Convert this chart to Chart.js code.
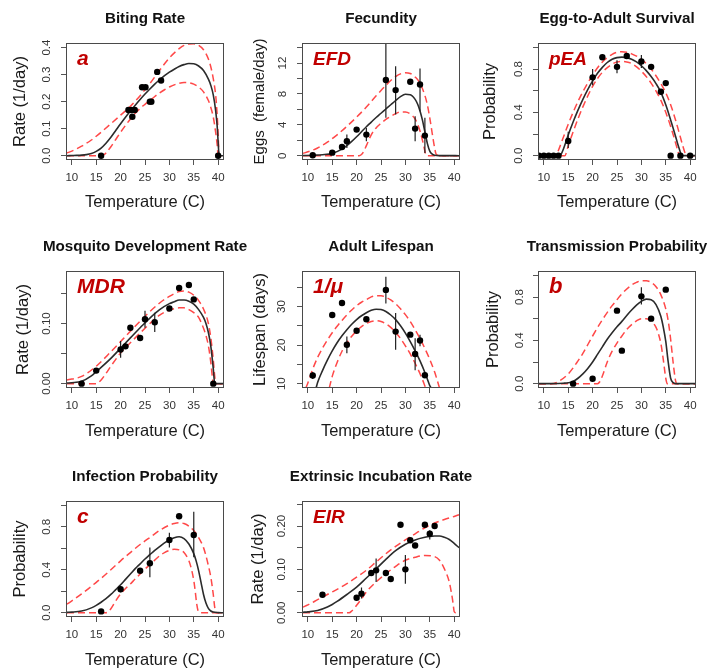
<!DOCTYPE html>
<html><head><meta charset="utf-8">
<script src="https://cdn.jsdelivr.net/npm/chart.js@4.4.1/dist/chart.umd.min.js"></script>
<style>
html,body{margin:0;padding:0;background:#fff;}
#stage{position:relative;width:711px;height:670px;overflow:hidden;background:#fff;}
#stage canvas{position:absolute;}
</style></head><body><div id="stage"></div>
<script>
// ---------- shared axis ticks ----------
const X_TICKS = [10,15,20,25,30,35,40];
const X_TICK_LABELS = ['10','15','20','25','30','35','40'];
const Y_TICKS_BITE = [0,0.1,0.2,0.3,0.4];
const Y_LABELS_BITE = ['0.0','0.1','0.2','0.3','0.4'];
const Y_TICKS_EFD = [0,2,4,6,8,10,12,14];
const Y_LABELS_EFD = ['0','','4','','8','','12',''];
const Y_TICKS_PROB = [0,0.2,0.4,0.6,0.8,1.0];
const Y_LABELS_PROB = ['0.0','','0.4','','0.8',''];
const Y_TICKS_MDR = [0,0.05,0.10,0.15];
const Y_LABELS_MDR = ['0.00','','0.10',''];
const Y_TICKS_LF = [10,15,20,25,30,35];
const Y_LABELS_LF = ['10','','20','','30',''];
const Y_TICKS_EIR = [0,0.05,0.10,0.15,0.20,0.25];
const Y_LABELS_EIR = ['0.00','','0.10','','0.20',''];

// ---------- Biting rate (a) ----------
const biteObsT = [16,21.6,22.2,22.9,22.4,24.4,25.1,26.0,26.3,27.5,28.3,40];
const biteObsY = [0,0.169,0.169,0.169,0.144,0.253,0.253,0.2,0.2,0.31,0.278,0];
const biteFitT = [9,10,11,12,13,14,15,16,17,18,19,20,21,22,23,24,25,26,27,28,29,30,31,32,33,34,35,36,37,38,38.5,39,39.5,39.8,40,40.2,41];
const biteFit  = [0,0.0005,0.001,0.002,0.004,0.008,0.016,0.028,0.046,0.068,0.093,0.118,0.142,0.165,0.187,0.208,0.228,0.247,0.265,0.281,0.296,0.309,0.32,0.33,0.337,0.341,0.34,0.332,0.315,0.283,0.26,0.225,0.165,0.11,0.05,0,0];
const biteHiT = [9,10,12,14,15,16,18,20,22,24,25,26,28,30,32,33,34,35,36,37,38,38.5,39,39.5,39.8,40,40.2,41];
const biteHi  = [0.01,0.017,0.035,0.058,0.072,0.087,0.118,0.15,0.183,0.222,0.245,0.267,0.316,0.362,0.396,0.408,0.413,0.414,0.408,0.392,0.358,0.328,0.285,0.222,0.15,0.08,0,0];
const biteLoT = [9,16,16.5,17,18,19,20,21,22,23,24,25,26,27,28,29,30,31,32,33,34,35,36,37,38,38.5,39,39.5,39.8,40,41];
const biteLo  = [0,0,0.003,0.01,0.033,0.06,0.087,0.112,0.136,0.157,0.175,0.19,0.204,0.219,0.232,0.244,0.254,0.262,0.268,0.271,0.27,0.265,0.254,0.236,0.204,0.178,0.143,0.085,0.04,0,0];

// ---------- Fecundity (EFD) ----------
const efdObsT = [11,15,17,18,20,22,26,28,31,32,33,34];
const efdObsY = [0.05,0.39,1.13,1.86,3.38,2.73,9.8,8.5,9.58,3.51,9.23,2.6];
const efdErrT = [18,22,26,28,32,33,34];
const efdErrLo = [1.0,1.86,4.9,5.33,1.86,5.77,0.35];
const efdErrHi = [2.73,3.6,16,11.6,5.1,11.3,4.9];
const efdFitT = [9,11,13,15,17,18,19,20,21,22,23,24,25,26,27,28,29,30,31,32,32.5,33,33.5,34,34.5,35,35.5,36,37,41];
const efdFit  = [0.02,0.06,0.13,0.3,0.85,1.3,1.85,2.45,3.1,3.75,4.35,4.95,5.5,6.05,6.6,7.15,7.65,7.95,7.9,7.3,6.7,5.8,4.6,3.1,1.6,0.6,0.2,0.06,0.01,0];
const efdHiT = [9,10,12,14,16,18,20,22,24,25,26,27,28,29,30,31,32,33,34,34.5,35,35.5,36,36.3,37,41];
const efdHi  = [0.3,0.5,1.0,1.75,2.7,3.8,5.0,6.3,7.75,8.45,9.1,9.75,10.25,10.6,10.75,10.65,10.2,9.4,7.8,6.6,4.9,2.9,1.0,0.2,0,0];
const efdLoT = [9,20.5,21,21.5,22,23,24,25,26,27,28,29,30,31,32,32.5,33,33.5,34,34.3,41];
const efdLo  = [0,0,0.15,0.6,1.3,2.7,3.6,4.2,4.7,5.1,5.45,5.65,5.65,5.4,4.75,4.1,3.2,2.0,0.6,0,0];

// ---------- Egg-to-adult survival (pEA) ----------
const peaObsT = [9,10,11,12,13,15,20,22,25,27,30,32,34,35,36,38,40];
const peaObsY = [0,0,0,0,0,0.135,0.723,0.908,0.82,0.92,0.87,0.82,0.59,0.67,0,0,0];
const peaErrT = [15,20,25,30];
const peaErrLo = [0.07,0.65,0.76,0.81];
const peaErrHi = [0.22,0.8,0.88,0.93];
const peaFitT = [9,13,13.5,14,15,16,17,18,19,20,21,22,23,24,25,26,27,28,29,30,31,32,33,34,35,36,37,37.5,38,38.2,41];
const peaFit  = [0,0,0.01,0.06,0.19,0.31,0.42,0.52,0.61,0.69,0.76,0.815,0.86,0.89,0.905,0.91,0.905,0.89,0.865,0.83,0.785,0.73,0.665,0.585,0.47,0.33,0.18,0.1,0.03,0,0];
const peaHiT = [9,12.5,13,14,15,16,17,18,20,22,24,25,26,27,28,30,32,34,35,36,37,38,38.5,39,39.5,41];
const peaHi  = [0,0,0.05,0.17,0.29,0.4,0.5,0.59,0.745,0.865,0.935,0.955,0.96,0.955,0.94,0.89,0.8,0.665,0.58,0.47,0.33,0.17,0.09,0.02,0,0];
const peaLoT = [9,14.3,15,16,17,18,20,22,24,25,26,27,28,30,32,34,35,36,37,37.5,37.8,41];
const peaLo  = [0,0,0.09,0.22,0.34,0.45,0.64,0.77,0.845,0.865,0.87,0.865,0.85,0.78,0.67,0.51,0.4,0.27,0.12,0.04,0,0];

// ---------- Mosquito development rate (MDR) ----------
const mdrObsT = [12,15,20,21,22,24,25,27,30,32,34,35,39];
const mdrObsY = [0,0.0217,0.0567,0.062,0.093,0.076,0.107,0.102,0.125,0.159,0.164,0.14,0];
const mdrErrT = [20,25,27];
const mdrErrLo = [0.043,0.093,0.086];
const mdrErrHi = [0.071,0.121,0.118];
const mdrFitT = [9,10,12,14,15,16,18,20,22,24,25,26,28,30,31,32,33,34,35,36,37,37.5,38,38.5,39,39.3,41];
const mdrFit  = [0.001,0.0015,0.004,0.013,0.02,0.027,0.042,0.059,0.076,0.093,0.101,0.109,0.123,0.133,0.136,0.139,0.139,0.137,0.132,0.123,0.11,0.1,0.085,0.062,0.025,0,0];
const mdrHiT = [9,12,15,18,20,22,25,28,30,32,33,34,35,36,37,38,38.5,39,39.3,39.5,41];
const mdrHi  = [0.006,0.012,0.029,0.053,0.07,0.087,0.112,0.134,0.145,0.153,0.154,0.152,0.147,0.138,0.124,0.1,0.076,0.04,0.012,0,0];
const mdrLoT = [9,15,16,17,18,20,22,25,28,30,32,33,34,35,36,37,37.5,38,38.5,38.8,39,41];
const mdrLo  = [0,0,0.006,0.017,0.029,0.051,0.068,0.092,0.114,0.122,0.126,0.126,0.123,0.118,0.11,0.092,0.08,0.063,0.035,0.012,0,0];

// ---------- Adult lifespan (1/mu) ----------
const lfObsT = [11,15,17,18,20,22,26,28,31,32,33,34];
const lfObsY = [12.1,27.8,30.9,20.1,23.7,26.7,34.3,23.5,22.7,17.7,21.2,12.2];
const lfErrT = [11,18,26,28,32,33];
const lfErrLo = [11.2,17.9,30.8,18.8,13.5,19.7];
const lfErrHi = [13.0,22.2,37.7,28.3,21.8,22.7];
const lfFitT = [11.7,12,13,14,15,16,17,18,19,20,21,22,23,24,25,26,27,28,29,30,31,32,33,34,34.5,35,35.3];
const lfFit  = [8.9,10.3,13.4,16.1,18.5,20.6,22.4,24.0,25.4,26.6,27.6,28.4,29.0,29.3,29.2,28.7,27.8,26.6,25.0,23.1,20.9,18.5,15.9,12.9,11.2,9.5,8.9];
const lfHiT = [9.6,10,11,12,13,14,15,16,17,18,19,20,21,22,23,24,25,26,27,28,29,30,31,32,33,34,35,36,36.5,37];
const lfHi  = [8.9,10.2,13.8,16.8,19.2,21.3,23.2,24.9,26.4,27.8,29.1,30.2,31.1,31.8,32.5,32.8,32.8,32.4,31.7,30.7,29.4,27.9,26.1,24.0,21.7,19.1,16.3,13.0,11.0,8.9];
const lfLoT = [14.4,15,16,17,18,19,20,21,22,23,24,25,26,27,28,29,30,31,32,33,33.5,34,34.2];
const lfLo  = [8.9,11.9,15.5,18.4,20.6,22.3,23.7,24.8,25.6,26.1,26.3,26.1,25.5,24.6,23.3,21.7,19.8,17.7,15.3,12.6,11.1,9.4,8.9];

// ---------- Transmission probability (b) ----------
const bObsT = [16,20,25,26,30,32,35];
const bObsY = [0.0,0.046,0.674,0.305,0.806,0.6,0.868];
const bErrT = [30];
const bErrLo = [0.73];
const bErrHi = [0.89];
const bFitT = [9,13,14,15,16,17,18,19,20,21,22,23,24,25,26,27,28,29,30,31,32,33,34,34.5,35,35.5,36,36.5,37,41];
const bFit  = [0,0.002,0.004,0.008,0.02,0.05,0.09,0.14,0.2,0.27,0.34,0.41,0.47,0.525,0.575,0.63,0.68,0.725,0.76,0.78,0.775,0.73,0.62,0.52,0.39,0.2,0.05,0.01,0,0];
const bHiT = [9,11.5,13,15,17,18,20,22,24,25,26,28,29,30,31,32,33,34,35,35.5,36,36.5,37,37.3,41];
const bHi  = [0,0,0.02,0.09,0.21,0.28,0.44,0.59,0.72,0.775,0.83,0.91,0.935,0.95,0.95,0.935,0.895,0.82,0.69,0.58,0.41,0.2,0.03,0,0];
const bLoT = [9,21,21.5,22,23,24,25,26,27,28,29,30,31,32,33,33.5,34,34.5,35,35.3,41];
const bLo  = [0,0,0.02,0.07,0.2,0.3,0.375,0.44,0.5,0.545,0.58,0.6,0.6,0.58,0.52,0.46,0.37,0.22,0.05,0,0];

// ---------- Infection probability (c) ----------
const cObsT = [16,20,24,26,30,32,35];
const cObsY = [0.012,0.218,0.39,0.46,0.677,0.898,0.723];
const cErrT = [20,26,30,35];
const cErrLo = [0.19,0.33,0.607,0.517];
const cErrHi = [0.246,0.607,0.745,0.94];
const cFitT = [9,10,12,14,15,16,17,18,19,20,21,22,23,24,25,26,27,28,29,30,31,32,33,34,35,35.5,36,36.5,37,37.5,38,38.5,39,40,41];
const cFit  = [0.003,0.005,0.015,0.045,0.068,0.097,0.13,0.17,0.215,0.26,0.31,0.36,0.41,0.455,0.5,0.54,0.58,0.615,0.65,0.677,0.698,0.707,0.69,0.64,0.55,0.48,0.39,0.28,0.17,0.09,0.04,0.016,0.006,0.001,0];
const cHiT = [9,10,12,14,15,16,18,20,22,24,25,26,28,30,31,32,33,34,35,36,37,37.5,38,38.5,39,39.3,39.6,41];
const cHi  = [0.08,0.11,0.175,0.245,0.283,0.32,0.4,0.483,0.56,0.635,0.668,0.7,0.766,0.815,0.83,0.837,0.83,0.806,0.765,0.7,0.606,0.53,0.437,0.33,0.17,0.05,0,0];
const cLoT = [9,17,17.5,18,19,20,21,22,23,24,25,26,27,28,29,30,31,32,33,34,34.5,35,35.3,35.6,36,36.5,41];
const cLo  = [0,0,0.01,0.037,0.11,0.175,0.225,0.268,0.315,0.36,0.406,0.447,0.49,0.53,0.56,0.58,0.59,0.585,0.56,0.483,0.41,0.3,0.2,0.083,0.006,0,0];

// ---------- Extrinsic incubation rate (EIR) ----------
const eirObsT = [13,20,21,23,24,26,27,29,30,31,32,34,35,36];
const eirObsY = [0.0415,0.0346,0.044,0.0915,0.0977,0.0915,0.0777,0.203,0.1,0.167,0.155,0.203,0.182,0.2];
const eirErrT = [13,21,24,30,35];
const eirErrLo = [0.036,0.033,0.071,0.067,0.169];
const eirErrHi = [0.048,0.058,0.125,0.133,0.19];
const eirFitT = [9,10,12,14,15,16,18,20,22,24,26,28,30,32,34,35,36,37,38,39,40,41];
const eirFit  = [0.001,0.002,0.005,0.013,0.019,0.026,0.042,0.059,0.08,0.101,0.123,0.143,0.158,0.168,0.174,0.176,0.177,0.177,0.174,0.169,0.16,0.15];
const eirHiT = [9,10,12,14,15,16,18,20,22,24,26,28,30,32,34,36,38,40,41];
const eirHi  = [0.013,0.018,0.03,0.042,0.048,0.054,0.067,0.082,0.098,0.117,0.136,0.153,0.168,0.182,0.196,0.207,0.215,0.222,0.226];
const eirLoT = [9,18.5,19,20,21,22,24,26,28,30,32,34,35.5,37,38,39,39.5,39.8,40,40.3,41];
const eirLo  = [0,0,0.004,0.017,0.032,0.048,0.071,0.09,0.107,0.121,0.128,0.132,0.131,0.121,0.101,0.071,0.042,0.02,0.003,0,0];

// ---------- layout ----------
const FONT = '"Liberation Sans", Arial, Helvetica, sans-serif';
const COL_LEFT = [66,302,538];
const ROW_TOP = [43,271,501];
const BOX_W = 158;
const BOX_H = [117,117,116];
const X_TITLE_DIST = [42,43.5,43.5];
const AXIS_W = 66, TOP_PAD = 43, RIGHT_PAD = 50;
const TICK_FONT = 11.5, AXIS_TITLE_FONT = 16.5, PANEL_TITLE_FONT = 15.2;

const PANELS = [
  {title:'Biting Rate', tag:'a', tagSize:21, ytitle:'Rate (1/day)', ytSize:16.5, col:0,row:0, ymin:-0.016, ymax:0.417, yTicks:Y_TICKS_BITE, yLabels:Y_LABELS_BITE,
   obsT:biteObsT, obsY:biteObsY, errT:[], errLo:[], errHi:[], fitT:biteFitT, fit:biteFit, hiT:biteHiT, hi:biteHi, loT:biteLoT, lo:biteLo, yTitleDist:46, yLabDist:19.3},
  {title:'Fecundity', tag:'EFD', tagSize:19, ytitle:'Eggs  (female/day)', ytSize:15, col:1,row:0, ymin:-0.56, ymax:14.6, yTicks:Y_TICKS_EFD, yLabels:Y_LABELS_EFD,
   obsT:efdObsT, obsY:efdObsY, errT:efdErrT, errLo:efdErrLo, errHi:efdErrHi, fitT:efdFitT, fit:efdFit, hiT:efdHiT, hi:efdHi, loT:efdLoT, lo:efdLo, yTitleDist:42, yLabDist:19},
  {title:'Egg-to-Adult Survival', tag:'pEA', tagSize:19, ytitle:'Probability', ytSize:16.5, col:2,row:0, ymin:-0.04, ymax:1.04, yTicks:Y_TICKS_PROB, yLabels:Y_LABELS_PROB,
   obsT:peaObsT, obsY:peaObsY, errT:peaErrT, errLo:peaErrLo, errHi:peaErrHi, fitT:peaFitT, fit:peaFit, hiT:peaHiT, hi:peaHi, loT:peaLoT, lo:peaLo, yTitleDist:48, yLabDist:19},
  {title:'Mosquito Development Rate', tag:'MDR', tagSize:21, ytitle:'Rate (1/day)', ytSize:16.5, col:0,row:1, ymin:-0.0072, ymax:0.1872, yTicks:Y_TICKS_MDR, yLabels:Y_LABELS_MDR,
   obsT:mdrObsT, obsY:mdrObsY, errT:mdrErrT, errLo:mdrErrLo, errHi:mdrErrHi, fitT:mdrFitT, fit:mdrFit, hiT:mdrHiT, hi:mdrHi, loT:mdrLoT, lo:mdrLo, yTitleDist:42.7, yLabDist:19.3},
  {title:'Adult Lifespan', tag:'1/\u03bc', tagSize:21, ytitle:'Lifespan (days)', ytSize:16.5, col:1,row:1, ymin:8.88, ymax:39.2, yTicks:Y_TICKS_LF, yLabels:Y_LABELS_LF,
   obsT:lfObsT, obsY:lfObsY, errT:lfErrT, errLo:lfErrLo, errHi:lfErrHi, fitT:lfFitT, fit:lfFit, hiT:lfHiT, hi:lfHi, loT:lfLoT, lo:lfLo, yTitleDist:42, yLabDist:20.3},
  {title:'Transmission Probability', tag:'b', tagSize:22, ytitle:'Probability', ytSize:16.5, col:2,row:1, ymin:-0.04, ymax:1.04, yTicks:Y_TICKS_PROB, yLabels:Y_LABELS_PROB,
   obsT:bObsT, obsY:bObsY, errT:bErrT, errLo:bErrLo, errHi:bErrHi, fitT:bFitT, fit:bFit, hiT:bHiT, hi:bHi, loT:bLoT, lo:bLo, yTitleDist:44.7, yLabDist:18.5},
  {title:'Infection Probability', tag:'c', tagSize:21, ytitle:'Probability', ytSize:16.5, col:0,row:2, ymin:-0.04, ymax:1.04, yTicks:Y_TICKS_PROB, yLabels:Y_LABELS_PROB,
   obsT:cObsT, obsY:cObsY, errT:cErrT, errLo:cErrLo, errHi:cErrHi, fitT:cFitT, fit:cFit, hiT:cHiT, hi:cHi, loT:cLoT, lo:cLo, yTitleDist:46, yLabDist:19.3},
  {title:'Extrinsic Incubation Rate', tag:'EIR', tagSize:19, ytitle:'Rate (1/day)', ytSize:16.5, col:1,row:2, ymin:-0.0099, ymax:0.2577, yTicks:Y_TICKS_EIR, yLabels:Y_LABELS_EIR,
   obsT:eirObsT, obsY:eirObsY, errT:eirErrT, errLo:eirErrLo, errHi:eirErrHi, fitT:eirFitT, fit:eirFit, hiT:eirHiT, hi:eirHi, loT:eirLoT, lo:eirLo, yTitleDist:44, yLabDist:20.3}
];

function pts(xs, ys){ return xs.map((x,i)=>({x:x, y:ys[i]})); }
function bars(xs, lo, hi){ const out=[]; xs.forEach((x,i)=>{ out.push({x:x,y:lo[i]},{x:x,y:hi[i]},{x:x,y:null}); }); return out; }

const measureCtx = document.createElement('canvas').getContext('2d');
function textW(s, px){ measureCtx.font = px+'px '+FONT; return measureCtx.measureText(s).width; }

const decoPlugin = {
  id:'panelDeco',
  afterDatasetsDraw(chart, args, o){
    const a = chart.chartArea, ctx = chart.ctx;
    ctx.save();
    ctx.strokeStyle = '#4a4a4a'; ctx.lineWidth = 1;
    ctx.strokeRect(Math.round(a.left)+0.5, Math.round(a.top)+0.5, Math.round(a.right-a.left)-1, Math.round(a.bottom-a.top)-1);
    ctx.fillStyle = '#111'; ctx.font = 'bold '+PANEL_TITLE_FONT+'px '+FONT; ctx.textAlign = 'center'; ctx.textBaseline = 'alphabetic';
    ctx.fillText(o.title, (a.left+a.right)/2, a.top-20);
    ctx.fillStyle = '#c00000'; ctx.font = 'italic bold '+o.tagSize+'px '+FONT; ctx.textAlign = 'left';
    ctx.fillText(o.tag, a.left+11, a.top+22);
    ctx.restore();
  }
};

const stage = document.getElementById('stage');
PANELS.forEach(p => {
  const cv = document.createElement('canvas');
  const xh = Math.round(X_TITLE_DIST[p.row] + AXIS_TITLE_FONT*1.2/2);
  const W = AXIS_W + BOX_W + RIGHT_PAD;
  const H = TOP_PAD + BOX_H[p.row] + xh;
  cv.width = W; cv.height = H;
  cv.style.left = (COL_LEFT[p.col]-AXIS_W)+'px';
  cv.style.top = (ROW_TOP[p.row]-TOP_PAD)+'px';
  cv.style.width = W+'px'; cv.style.height = H+'px';
  stage.appendChild(cv);
  const widest = Math.max(...p.yLabels.map(s=>textW(s,TICK_FONT)));
  const yPad = p.yLabDist - 5 - widest/2;
  const yTitlePad = AXIS_W - p.yTitleDist - p.ytSize*1.2/2;
  new Chart(cv, {
    type:'line',
    data:{ datasets:[
      {label:'observed', data:pts(p.obsT,p.obsY), showLine:false, pointRadius:3.2, pointHoverRadius:3.2, pointBackgroundColor:'#000', pointBorderWidth:0, borderColor:'#000'},
      {label:'error', data:bars(p.errT,p.errLo,p.errHi), borderColor:'#222', borderWidth:1.2, pointRadius:0, tension:0, spanGaps:false},
      {label:'mean', data:pts(p.fitT,p.fit), borderColor:'#2b2b2b', borderWidth:1.6, pointRadius:0, cubicInterpolationMode:'monotone'},
      {label:'lower', data:pts(p.loT,p.lo), borderColor:'#ff4848', borderWidth:1.5, borderDash:[7,4], pointRadius:0, cubicInterpolationMode:'monotone'},
      {label:'upper', data:pts(p.hiT,p.hi), borderColor:'#ff4848', borderWidth:1.5, borderDash:[7,4], pointRadius:0, cubicInterpolationMode:'monotone'}
    ]},
    options:{
      responsive:false, animation:false, devicePixelRatio:1,
      layout:{padding:{left:0, top:TOP_PAD, right:RIGHT_PAD, bottom:0}},
      plugins:{legend:{display:false}, tooltip:{enabled:false}, title:{display:false},
        panelDeco:{title:p.title, tag:p.tag, tagSize:p.tagSize}},
      scales:{
        x:{type:'linear', min:8.8, max:41.2,
          afterBuildTicks:s=>{ s.ticks = X_TICKS.map(v=>({value:v})); },
          afterFit:s=>{ s.height = xh; },
          ticks:{autoSkip:false, maxRotation:0, minRotation:0, padding:6, color:'#333',
            font:{family:FONT, size:TICK_FONT}, callback:(v,i)=>X_TICK_LABELS[i]},
          grid:{drawOnChartArea:false, drawTicks:true, tickLength:5, color:'#555', tickColor:'#555'},
          border:{display:false},
          title:{display:true, text:'Temperature (C)', color:'#1a1a1a', font:{family:FONT, size:AXIS_TITLE_FONT}, padding:{top:0, bottom:0}}
        },
        y:{type:'linear', min:p.ymin, max:p.ymax,
          afterBuildTicks:s=>{ s.ticks = p.yTicks.map(v=>({value:v})); },
          afterFit:s=>{ s.width = AXIS_W; },
          ticks:{autoSkip:false, minRotation:90, maxRotation:90, crossAlign:'center', padding:yPad, color:'#333',
            font:{family:FONT, size:TICK_FONT}, callback:(v,i)=>p.yLabels[i]},
          grid:{drawOnChartArea:false, drawTicks:true, tickLength:5, color:'#555', tickColor:'#555'},
          border:{display:false},
          title:{display:true, text:p.ytitle, color:'#1a1a1a', font:{family:FONT, size:p.ytSize}, padding:{top:yTitlePad, bottom:0}}
        }
      }
    },
    plugins:[decoPlugin]
  });
});
</script>
</body></html>
